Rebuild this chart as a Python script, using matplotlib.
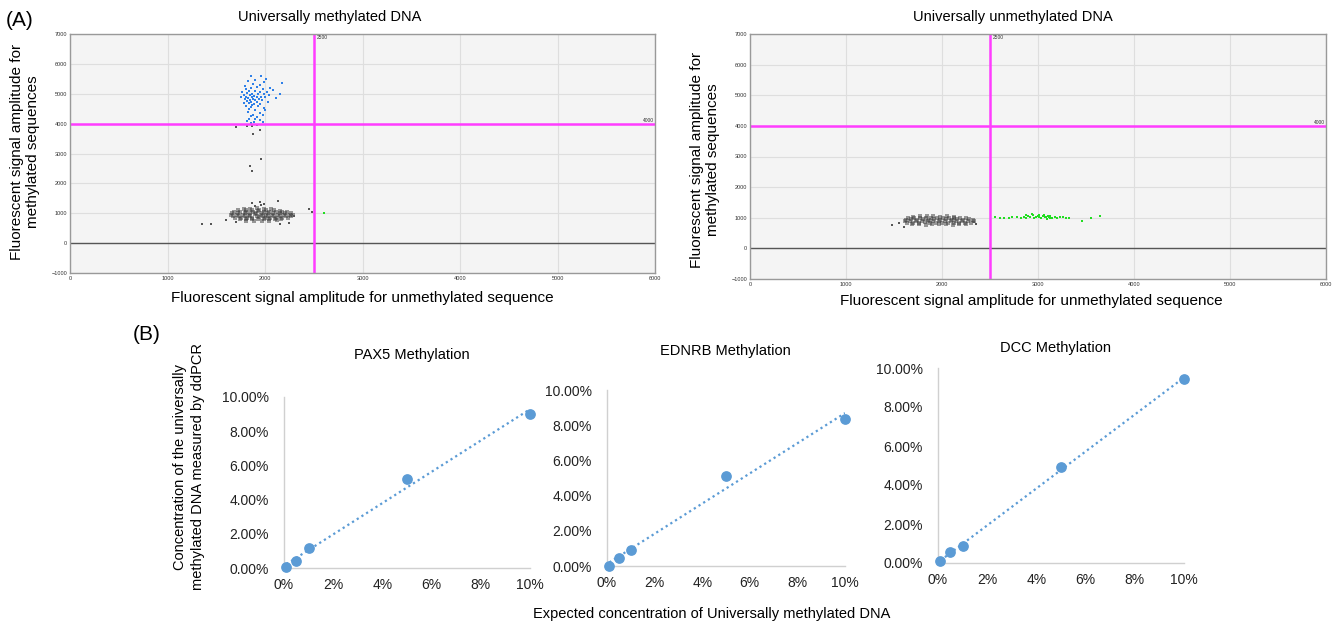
import numpy as np
import matplotlib.pyplot as plt
from matplotlib.ticker import FuncFormatter

plt.rcParams['font.family'] = ['Liberation Sans', 'DejaVu Sans']

# ---- (A) droplet amplitudes (x = unmethylated, y = methylated)
meth_blue_x = [1860, 1960, 2010, 1900, 1830, 1990, 2170, 1880, 1950, 1790, 1920, 2050, 1860, 1800,
               1980, 2080, 1840, 1900, 1950, 2020, 1760, 1820, 1870, 1930, 1990, 2150, 1780, 1850,
               1890, 2040, 1810, 1870, 1920, 1960, 2000, 1750, 1830, 1880, 1940, 2110, 1790, 1850,
               1900, 1970, 1820, 1860, 1920, 2030, 1780, 1840, 1890, 1950, 1870, 1810, 1930, 1860,
               1990, 1840, 1900, 2000, 1830, 1950, 1880, 1860, 1920, 1980, 1840, 1900, 1950, 1820,
               1890, 1980, 1860]
meth_blue_y = [5600, 5600, 5500, 5450, 5420, 5380, 5360, 5330, 5300, 5250, 5230, 5200, 5180, 5150,
               5150, 5120, 5100, 5080, 5060, 5050, 5050, 5020, 5000, 4990, 4980, 4990, 4960, 4950,
               4930, 4950, 4900, 4890, 4880, 4900, 4880, 4880, 4850, 4840, 4830, 4850, 4820, 4800,
               4790, 4780, 4760, 4740, 4730, 4740, 4700, 4680, 4670, 4660, 4620, 4600, 4580, 4540,
               4520, 4480, 4440, 4440, 4380, 4350, 4300, 4250, 4230, 4280, 4170, 4150, 4120, 4080,
               4060, 4050, 4020]

# dense negative-droplet cloud
meth_core_x = [1780, 1850, 1920, 1990, 2060, 1720, 1800, 1870, 1940, 2010, 2090, 2150, 1680, 1745,
               1810, 1875, 1930, 1985, 2045, 2110, 2170, 2230, 1660, 1725, 1790, 1845, 1905, 1965,
               2030, 2085, 2150, 2205, 2265, 1650, 1715, 1770, 1835, 1895, 1955, 2015, 2075, 2135,
               2190, 2255, 2290, 1670, 1735, 1795, 1850, 1915, 1975, 2035, 2090, 2155, 2215, 2270,
               1690, 1755, 1815, 1870, 1935, 1995, 2050, 2115, 2175, 2235, 1745, 1805, 1865, 1925,
               1985, 2045, 2105, 2165, 1800, 1885, 1965, 2045, 2125]
meth_core_y = [1150, 1140, 1160, 1150, 1140, 1100, 1110, 1095, 1105, 1100, 1110, 1090, 1050, 1045,
               1055, 1050, 1060, 1045, 1055, 1050, 1040, 1050, 1000, 1005, 995, 1000, 1010, 995,
               1000, 1005, 995, 1000, 1010, 950, 955, 945, 950, 960, 945, 955, 950, 945, 955, 950,
               940, 900, 905, 895, 900, 910, 895, 905, 900, 895, 905, 900, 850, 855, 845, 850, 860,
               845, 855, 850, 845, 855, 800, 805, 795, 800, 810, 795, 805, 800, 750, 755, 745, 750,
               760]
# scattered grey droplets
meth_stray_x = [1700, 1820, 1870, 1950, 1880, 1920, 1960, 1850, 1870, 2480, 2450,
                1870, 1950, 1960, 1990, 2130, 1900, 1350, 1450, 1600, 2150, 2250, 2300, 2270, 1700]
meth_stray_y = [3900, 3920, 3930, 3780, 3660, 3940, 2800, 2570, 2420, 1050, 1150,
                1350, 1380, 1290, 1320, 1420, 1250, 650, 650, 760, 650, 680, 900, 940, 700]

meth_green_x = [2610]
meth_green_y = [1010]

unmeth_core_x = [1700, 1770, 1840, 1910, 1980, 2050, 2120, 1650, 1710, 1770, 1830, 1890, 1950,
                 2010, 2070, 2130, 2190, 2250, 1620, 1680, 1740, 1800, 1860, 1920, 1980, 2040,
                 2100, 2160, 2220, 2280, 2320, 1610, 1670, 1730, 1790, 1850, 1910, 1970, 2030,
                 2090, 2150, 2210, 2270, 2330, 1640, 1700, 1760, 1820, 1880, 1940, 2000, 2060,
                 2120, 2180, 2240, 2300, 1690, 1760, 1830, 1900, 1970, 2040, 2110, 2180, 2250]
unmeth_core_y = [1040, 1050, 1045, 1055, 1040, 1050, 1035, 990, 1000, 995, 1005, 990, 1000,
                 995, 1000, 990, 995, 985, 940, 945, 935, 950, 940, 945, 935, 945, 940, 950,
                 935, 945, 940, 890, 885, 895, 880, 890, 885, 895, 880, 890, 885, 880, 890, 885,
                 835, 840, 830, 845, 835, 840, 830, 840, 835, 830, 840, 830, 780, 790, 775, 785,
                 780, 790, 775, 780, 785]
unmeth_stray_x = [1480, 1550, 2350, 2330, 1600]
unmeth_stray_y = [750, 820, 800, 850, 700]

unmeth_green_x = [2550, 2600, 2650, 2700, 2730, 2780, 2820, 2850, 2870, 2900, 2920, 2950, 2960,
                  2980, 3000, 3010, 3030, 3050, 3060, 3070, 3080, 3090, 3100, 3110, 3120, 3130,
                  3150, 3180, 3200, 3230, 3260, 3290, 3320, 3460, 3550, 3650, 2880, 2940, 3010]
unmeth_green_y = [1030, 1000, 980, 1000, 1010, 1020, 1000, 1040, 990, 1050, 1020, 1080, 1000,
                  1040, 1060, 1020, 990, 1050, 1080, 1010, 1040, 970, 1060, 1020, 990, 1050,
                  1000, 1030, 980, 1010, 1040, 990, 1000, 900, 980, 1070, 1100, 1120, 1100]

# ---- (B) expected vs measured concentration (%)
expected = [0.1, 0.5, 1, 5, 10]
pax5 = [0.04, 0.43, 1.15, 5.22, 9.03]
ednrb = [0.0, 0.46, 0.89, 5.13, 8.34]
dcc = [0.12, 0.55, 0.87, 4.91, 9.45]

W, H = 1336, 625
fig = plt.figure(figsize=(W / 100, H / 100), dpi=100)


def box(l, t, r, b):
    return [l / W, 1 - b / H, (r - l) / W, (b - t) / H]


def droplet_axes(rect, core, stray, blue, green):
    ax = fig.add_axes(rect)
    ax.set_facecolor('#f4f4f4')
    ax.set_xlim(0, 6000)
    ax.set_ylim(-1000, 7000)
    ax.set_xticks(range(0, 6001, 1000))
    ax.set_yticks(range(-1000, 7001, 1000))
    ax.grid(True, color='#dedede', linewidth=0.8)
    ax.set_axisbelow(True)
    ax.tick_params(labelsize=4, length=0, pad=2, colors='#333333')
    for s in ax.spines.values():
        s.set_color('#999999')
        s.set_linewidth(1)
    ax.axhline(0, color='#555555', linewidth=1)
    ax.scatter(core[0], core[1], s=11, marker='s', color='#3a3a3a', alpha=0.5, linewidths=0)
    ax.scatter(stray[0], stray[1], s=3, marker='s', color='#555555', linewidths=0)
    if blue is not None:
        ax.scatter(blue[0], blue[1], s=3, marker='s', color='#2f80e8', linewidths=0)
    ax.scatter(green[0], green[1], s=3, marker='s', color='#22dd22', linewidths=0)
    ax.axvline(2500, color='#ff3cff', linewidth=1.8)
    ax.axhline(4000, color='#ff3cff', linewidth=1.8)
    ax.text(2530, 6980, '2500', fontsize=3.5, va='top', color='#333333')
    ax.text(5990, 4030, '4000', fontsize=3.5, ha='right', va='bottom', color='#333333')
    return ax


droplet_axes(box(70, 34, 655, 273), (meth_core_x, meth_core_y), (meth_stray_x, meth_stray_y),
             (meth_blue_x, meth_blue_y), (meth_green_x, meth_green_y))
droplet_axes(box(750, 34, 1326, 279), (unmeth_core_x, unmeth_core_y),
             (unmeth_stray_x, unmeth_stray_y), None, (unmeth_green_x, unmeth_green_y))

fig.text(330 / W, 1 - 17 / H, 'Universally methylated DNA', ha='center', va='center', fontsize=10.5)
fig.text(1013 / W, 1 - 17 / H, 'Universally unmethylated DNA', ha='center', va='center', fontsize=10.5)
fig.text(362 / W, 1 - 298 / H, 'Fluorescent signal amplitude for unmethylated sequence',
         ha='center', va='center', fontsize=11)
fig.text(1031 / W, 1 - 301 / H, 'Fluorescent signal amplitude for unmethylated sequence',
         ha='center', va='center', fontsize=11)
fig.text(25 / W, 1 - 152 / H, 'Fluorescent signal amplitude for\nmethylated sequences',
         ha='center', va='center', rotation=90, fontsize=11, linespacing=1.15)
fig.text(705 / W, 1 - 160 / H, 'Fluorescent signal amplitude for\nmethylated sequences',
         ha='center', va='center', rotation=90, fontsize=11, linespacing=1.15)
fig.text(6 / W, 1 - 20 / H, '(A)', ha='left', va='center', fontsize=15)
fig.text(133 / W, 1 - 335 / H, '(B)', ha='left', va='center', fontsize=15)

# ---- (B) panels
panels = [
    ('PAX5 Methylation', pax5, box(284, 397, 530, 568), (412, 355)),
    ('EDNRB Methylation', ednrb, box(607, 390, 845, 566), (725, 351)),
    ('DCC Methylation', dcc, box(938, 368, 1184, 563), (1056, 348)),
]
blue = '#5b9bd5'
for title, vals, rect, tpos in panels:
    ax = fig.add_axes(rect)
    ax.set_xlim(0, 10)
    ax.set_ylim(0, 10)
    ax.set_xticks(range(0, 11, 2))
    ax.set_yticks(range(0, 11, 2))
    ax.xaxis.set_major_formatter(FuncFormatter(lambda v, p: '%d%%' % v))
    ax.yaxis.set_major_formatter(FuncFormatter(lambda v, p: '%.2f%%' % v))
    ax.tick_params(length=0, labelsize=10, colors='#222222')
    ax.tick_params(axis='y', pad=11)
    ax.tick_params(axis='x', pad=7)
    for side in ['top', 'right']:
        ax.spines[side].set_visible(False)
    for side in ['left', 'bottom']:
        ax.spines[side].set_color('#d0d0d0')
        ax.spines[side].set_linewidth(1)
    slope, icpt = np.polyfit(expected, vals, 1)
    xs = np.array([expected[0], expected[-1]])
    ax.plot(xs, slope * xs + icpt, linestyle=(0, (1, 1.5)), color=blue, linewidth=1.6)
    ax.scatter(expected, vals, s=45, color=blue, zorder=3, clip_on=False)
    fig.text(tpos[0] / W, 1 - tpos[1] / H, title, ha='center', va='center', fontsize=10.5)

fig.text(189 / W, 1 - 467 / H, 'Concentration of the universally\nmethylated DNA measured by ddPCR',
         ha='center', va='center', rotation=90, fontsize=10.5, linespacing=1.35)
fig.text(712 / W, 1 - 614 / H, 'Expected concentration of Universally methylated DNA',
         ha='center', va='center', fontsize=10.5)

fig.savefig('out.png', dpi=100)
